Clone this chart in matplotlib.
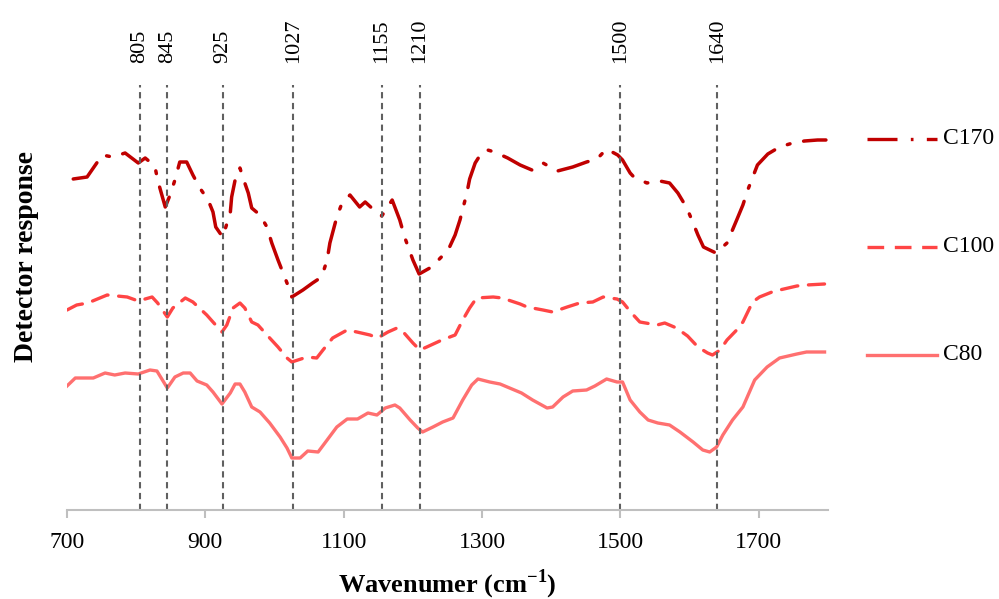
import numpy as np
import matplotlib
matplotlib.use("Agg")
import matplotlib.pyplot as plt
from matplotlib.lines import Line2D

plt.rcParams['font.family'] = ['Liberation Serif', 'DejaVu Serif']
plt.rcParams['mathtext.fontset'] = 'custom'
plt.rcParams['mathtext.rm'] = 'Liberation Serif'
plt.rcParams['mathtext.bf'] = 'Liberation Serif:bold'

# spectra (wavenumber, detector response in arbitrary units)
c170_x = [709, 729, 751, 766, 784, 803, 813, 827, 831, 842, 849, 856, 863, 873, 882, 892, 904, 911, 915, 925,
          936, 938, 943, 950, 954, 962, 967, 979, 989, 996, 1005, 1018, 1025, 1041, 1055, 1068, 1076, 1080, 1090,
          1097, 1109, 1123, 1131, 1142, 1155, 1170, 1181, 1188, 1200, 1209, 1227, 1251, 1261, 1268, 1278, 1282,
          1290, 1300, 1308, 1318, 1337, 1355, 1372, 1388, 1409, 1431, 1451, 1466, 1480, 1496, 1503, 1514, 1518,
          1538, 1557, 1571, 1583, 1596, 1605, 1612, 1620, 1638, 1654, 1668, 1677, 1684, 1698, 1713, 1730, 1749,
          1766, 1785, 1797]
c170_y = [331, 333, 355, 353, 357, 347, 352, 344, 330, 303, 315, 330, 348, 348, 335, 322, 310, 298, 283, 273,
          297, 313, 330, 342, 333, 317, 302, 295, 283, 267, 250, 227, 213, 220, 227, 233, 250, 267, 293,
          306, 315, 303, 308, 301, 294, 310, 290, 273, 250, 236, 243, 260, 275, 290, 317, 331,
          347, 358, 360, 358, 352, 345, 340, 347, 339, 343, 348, 351, 361, 355, 350, 337, 334,
          327, 329, 327, 317, 302, 287, 275, 263, 257, 267, 290, 305, 320, 345, 356, 363, 367,
          369, 370, 370]

c100_x = [700, 714, 730, 758, 787, 803, 823, 831, 845, 853, 871, 882, 902, 911, 924, 931, 940, 950, 957, 967,
          976, 993, 1005, 1018, 1025, 1047, 1061, 1070, 1084, 1105, 1119, 1138, 1149, 1164, 1177, 1186, 1200,
          1210, 1220, 1242, 1261, 1272, 1282, 1292, 1316, 1329, 1355, 1365, 1388, 1402, 1423, 1441, 1460, 1475,
          1495, 1503, 1516, 1528, 1553, 1564, 1581, 1597, 1612, 1626, 1633, 1644, 1654, 1668, 1677, 1691, 1701,
          1719, 1730, 1755, 1769, 1795]
c100_y = [200, 205, 207, 215, 213, 209, 213, 207, 193, 202, 212, 208, 195, 188, 178, 185, 202, 207, 202, 188,
          185, 172, 163, 152, 148, 153, 152, 160, 172, 180, 178, 175, 172, 178, 182, 178, 167,
          160, 163, 170, 175, 190, 202, 212, 213, 212, 206, 203, 200, 198, 203, 207, 208, 213,
          211, 208, 197, 188, 185, 187, 182, 174, 163, 157, 155, 160, 170, 180, 188, 208, 213,
          218, 220, 224, 225, 226]

c80_x = [700, 712, 738, 755, 769, 784, 803, 820, 830, 845, 856, 868, 878, 888, 902, 911, 924, 936, 943, 950,
         957, 967, 979, 993, 1008, 1018, 1025, 1037, 1048, 1063, 1076, 1090, 1105, 1120, 1135, 1148, 1160, 1174,
         1181, 1196, 1207, 1214, 1229, 1243, 1258, 1272, 1285, 1294, 1311, 1326, 1357, 1373, 1394, 1402, 1417,
         1431, 1451, 1463, 1480, 1495, 1503, 1514, 1528, 1540, 1554, 1571, 1586, 1605, 1619, 1629, 1639, 1648,
         1662, 1677, 1694, 1712, 1730, 1755, 1769, 1795]
c80_y = [124, 132, 132, 137, 135, 137, 136, 140, 139, 122, 133, 137, 137, 129, 125, 118, 106, 117, 126, 126,
         118, 103, 98, 87, 73, 62, 52, 52, 59, 58, 70, 83, 91, 91, 97, 95, 102, 105,
         102, 90, 82, 78, 83, 88, 92, 110, 125, 131, 128, 126, 117, 110, 102, 103, 113,
         119, 120, 124, 131, 128, 128, 110, 98, 90, 87, 85, 78, 68, 60, 58, 63, 75,
         90, 103, 130, 143, 152, 156, 158, 158]

peaks = [805, 845, 925, 1027, 1155, 1210, 1500, 1640]
xticks = [700, 900, 1100, 1300, 1500, 1700]

W, H = 999, 599
fig = plt.figure(figsize=(W / 100, H / 100), dpi=100)
ax = fig.add_axes([67 / W, 1 - 510 / H, (828 - 67) / W, (510 - 85) / H])

c170_col = '#C00000'
c100_col = '#FF4545'
c80_col = '#FF7070'

ax.plot(c170_x, c170_y, color=c170_col, lw=2.5, dashes=(9, 4, 0.8, 4), dash_capstyle='round')
ax.plot(c100_x, c100_y, color=c100_col, lw=2.4, dashes=(5, 3.2), dash_capstyle='round')
ax.plot(c80_x, c80_y, color=c80_col, lw=2.4)

for p in peaks:
    ax.axvline(p, color='#606060', lw=1.5, dashes=(3, 2.2))
    ax.text(p, 1.052, str(p), transform=ax.get_xaxis_transform(), rotation=90,
            ha='center', va='bottom', fontsize=16)

ax.set_xlim(700, 1800)
ax.set_ylim(0, 425)
ax.set_xticks(xticks)
ax.set_xticklabels([str(t) for t in xticks], fontsize=17)
ax.set_yticks([])
for s in ['top', 'right', 'left']:
    ax.spines[s].set_visible(False)
ax.spines['bottom'].set_color('#BFBFBF')
ax.spines['bottom'].set_linewidth(1.5)
ax.tick_params(axis='x', direction='out', length=6, width=1.5, color='#BFBFBF', pad=10)

ax.set_xlabel(r'Wavenumer (cm$^{\mathbf{-1}}$)', fontsize=19, fontweight='bold', labelpad=10)
fig.text(27 / W, 1 - 256 / H, 'Detector response', rotation=90, ha='center', va='center',
         fontsize=20, fontweight='bold')

# legend drawn on the right side
legend = [('C170', c170_col, dict(dashes=(9, 4, 0.8, 4))),
          ('C100', c100_col, dict(dashes=(5, 3.2))),
          ('C80', c80_col, dict())]
for (name, col, kw), ypix in zip(legend, [139, 247, 355]):
    yf = 1 - ypix / H
    fig.add_artist(Line2D([867 / W, 937 / W], [yf, yf], color=col, lw=2.4,
                          transform=fig.transFigure, **kw))
    fig.text(943 / W, yf, name, ha='left', va='center', fontsize=17)

fig.savefig('out.png', dpi=100)
